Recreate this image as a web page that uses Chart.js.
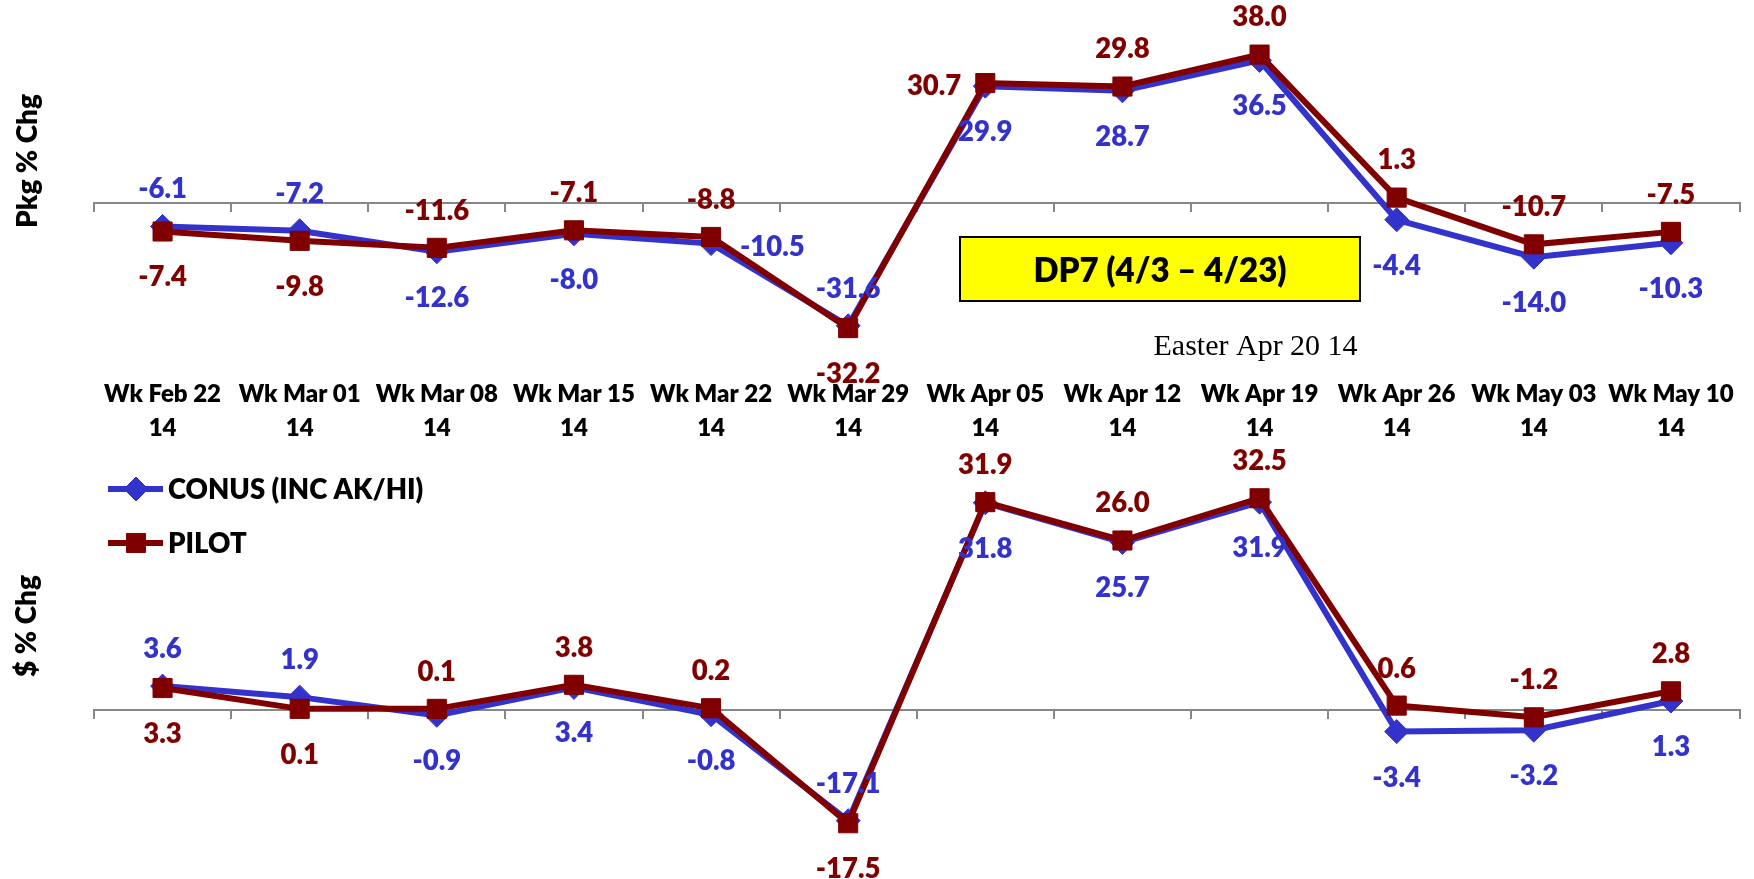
<!DOCTYPE html>
<html><head><meta charset="utf-8">
<script src="https://cdn.jsdelivr.net/npm/chart.js@4.4.1/dist/chart.umd.min.js"></script>
<style>
html,body{margin:0;padding:0;background:#fff;}
#wrap{position:relative;width:1754px;height:879px;overflow:hidden;background:#fff;}
canvas{position:absolute;left:0;}
</style></head><body>
<div id="wrap">
<canvas id="c1"></canvas>
<canvas id="c2"></canvas>
</div>
<script>
// ---------- data ----------
const categories = ['Wk Feb 22 14','Wk Mar 01 14','Wk Mar 08 14','Wk Mar 15 14','Wk Mar 22 14','Wk Mar 29 14',
                    'Wk Apr 05 14','Wk Apr 12 14','Wk Apr 19 14','Wk Apr 26 14','Wk May 03 14','Wk May 10 14'];
const seriesNames = ['CONUS (INC AK/HI)', 'PILOT'];
const pkgConus    = [-6.1, -7.2, -12.6, -8.0, -10.5, -31.6, 29.9, 28.7, 36.5, -4.4, -14.0, -10.3];
const pkgPilot    = [-7.4, -9.8, -11.6, -7.1, -8.8, -32.2, 30.7, 29.8, 38.0, 1.3, -10.7, -7.5];
const dollarConus = [3.6, 1.9, -0.9, 3.4, -0.8, -17.1, 31.8, 25.7, 31.9, -3.4, -3.2, 1.3];
const dollarPilot = [3.3, 0.1, 0.1, 3.8, 0.2, -17.5, 31.9, 26.0, 32.5, 0.6, -1.2, 2.8];
const pkgTitle = 'Pkg % Chg';
const dollarTitle = '$ % Chg';
const periodNote = 'DP7 (4/3 \u2013 4/23)';
const holidayNote = 'Easter Apr 20 14';
const holidayCategory = 'Wk Apr 19 14';

// ---------- label placement (layout, not data) ----------
const pkgConusPlace    = ['a','a','b','b','r','a','b','b','b','b','b','b'];
const pkgPilotPlace    = ['b','b','a','a','a','b','l','a','a','a','a','a'];
const dollarConusPlace = ['a','a','b','b','b','a','b','b','b','b','b','b'];
const dollarPilotPlace = ['b','b','a','a','a','b','a','a','a','a','a','a'];

// ---------- styles ----------
const BLUE = '#3333CC', RED = '#800000', AXIS = '#878787';
const FONT = 'Lato';
const WEIGHT = '800';
const LBL = 27.5;
const TICK = 24;

const W = 1754;
const c1 = document.getElementById('c1'), c2 = document.getElementById('c2');
c1.style.top = '0px'; c2.style.top = '440px';

const valueLabels = {
  id: 'valueLabels',
  afterDatasetsDraw(chart, args, o) {
    const ctx = chart.ctx;
    const cap = LBL * 0.72;
    chart.data.datasets.forEach((ds, di) => {
      const meta = chart.getDatasetMeta(di);
      const place = o.places[di];
      ctx.save();
      ctx.font = WEIGHT + ' ' + LBL + 'px ' + FONT;
      ctx.fillStyle = ds.borderColor;
      ctx.textBaseline = 'alphabetic';
      meta.data.forEach((pt, i) => {
        const txt = ds.data[i].toFixed(1);
        let x = pt.x, cy = pt.y, align = 'center';
        const p = place[i];
        if (p === 'a') cy -= 38;
        else if (p === 'b') cy += 45;
        else if (p === 'r') { x += 29; align = 'left'; cy += 3; }
        else if (p === 'l') { x -= 24; align = 'right'; cy += 2; }
        ctx.textAlign = align;
        ctx.fillText(txt, x, cy + cap / 2);
      });
      ctx.restore();
    });
  }
};

const sideTitle = {
  id: 'sideTitle',
  afterDraw(chart, args, o) {
    const ctx = chart.ctx;
    ctx.save();
    ctx.translate(o.x, o.y);
    ctx.rotate(-Math.PI / 2);
    ctx.font = WEIGHT + ' ' + o.size + 'px ' + FONT;
    ctx.fillStyle = '#000';
    ctx.textAlign = 'center';
    ctx.textBaseline = 'middle';
    ctx.fillText(o.text, 0, 0);
    ctx.restore();
  }
};

const notes = {
  id: 'notes',
  afterDraw(chart, args, o) {
    if (!o.show) return;
    const ctx = chart.ctx;
    ctx.save();
    // period box
    ctx.fillStyle = '#FFFF00';
    ctx.fillRect(960, 237, 400, 64);
    ctx.strokeStyle = '#000'; ctx.lineWidth = 2;
    ctx.strokeRect(960, 237, 400, 64);
    ctx.fillStyle = '#000';
    ctx.font = WEIGHT + ' 33px ' + FONT;
    ctx.textAlign = 'center'; ctx.textBaseline = 'alphabetic';
    ctx.fillText(periodNote, 1160, 270 + 33 * 0.36);
    // holiday note
    const hx = chart.scales.x.getPixelForValue(categories.indexOf(holidayCategory));
    ctx.font = '30px "Liberation Serif"';
    ctx.fillText(holidayNote, hx - 4, 355);
    ctx.restore();
  }
};

const seriesLegend = {
  id: 'seriesLegend',
  afterDraw(chart, args, o) {
    if (!o.show) return;
    const ctx = chart.ctx;
    chart.data.datasets.forEach((ds, i) => {
      const y = o.y + i * o.gap;
      ctx.save();
      ctx.strokeStyle = ds.borderColor; ctx.lineWidth = ds.borderWidth;
      ctx.beginPath(); ctx.moveTo(o.x, y); ctx.lineTo(o.x + 55, y); ctx.stroke();
      ctx.fillStyle = ds.borderColor; ctx.lineWidth = 1;
      Chart.helpers.drawPoint(ctx, {pointStyle: ds.pointStyle, radius: ds.pointRadius, borderWidth: 1, rotation: 0}, o.x + 28, y);
      ctx.fillStyle = '#000';
      ctx.font = WEIGHT + ' ' + LBL + 'px ' + FONT;
      ctx.textAlign = 'left'; ctx.textBaseline = 'alphabetic';
      ctx.fillText(ds.label, o.x + 60, y + LBL * 0.36);
      ctx.restore();
    });
  }
};

function makeDatasets(conus, pilot) {
  return [
    {label: seriesNames[0], data: conus, borderColor: BLUE, backgroundColor: BLUE, borderWidth: 6,
     pointStyle: 'rectRot', pointRadius: 12, pointBorderWidth: 1, pointHoverRadius: 12, order: 2, tension: 0},
    {label: seriesNames[1], data: pilot, borderColor: RED, backgroundColor: RED, borderWidth: 6,
     pointStyle: 'rect', pointRadius: 13.5, pointBorderWidth: 1, pointHoverRadius: 13.5, order: 1, tension: 0}
  ];
}

function zeroAxis() {
  return {
    type: 'category', offset: true, position: {y: 0},
    grid: {display: true, offset: true, drawOnChartArea: false, drawTicks: true, tickLength: 8, color: AXIS, lineWidth: 2},
    border: {display: true, color: AXIS, width: 2},
    ticks: {display: false}
  };
}

Chart.defaults.animation = false;

// ---------- top chart ----------
c1.width = W; c1.height = 450;
new Chart(c1, {
  type: 'line',
  data: {labels: categories, datasets: makeDatasets(pkgConus, pkgPilot)},
  plugins: [valueLabels, sideTitle, notes],
  options: {
    responsive: false, animation: false, devicePixelRatio: 1,
    layout: {padding: {left: 94, right: 10, top: 39, bottom: 0}},
    plugins: {legend: {display: false}, tooltip: {enabled: false},
      valueLabels: {places: [pkgConusPlace, pkgPilotPlace]},
      sideTitle: {text: pkgTitle, x: 28, y: 161, size: 28},
      notes: {show: true}},
    scales: {
      y: {display: false, min: -45, max: 42},
      x: {type: 'category', offset: true, position: 'bottom',
          grid: {display: false, drawTicks: false}, border: {display: false},
          ticks: {color: '#000', padding: 0, maxRotation: 0, autoSkip: false,
                  font: {family: FONT, weight: WEIGHT, size: TICK, lineHeight: 1.39},
                  callback(v, i) { const s = categories[i]; const k = s.lastIndexOf(' '); return [s.slice(0, k), s.slice(k + 1)]; }},
          afterFit(s) { s.height = 72; }},
      x0: zeroAxis()
    }
  }
});

// ---------- bottom chart ----------
c2.width = W; c2.height = 439;
new Chart(c2, {
  type: 'line',
  data: {labels: categories, datasets: makeDatasets(dollarConus, dollarPilot)},
  plugins: [valueLabels, sideTitle, seriesLegend],
  options: {
    responsive: false, animation: false, devicePixelRatio: 1,
    layout: {padding: {left: 94, right: 10, top: 35.5, bottom: 39.5}},
    plugins: {legend: {display: false}, tooltip: {enabled: false},
      valueLabels: {places: [dollarConusPlace, dollarPilotPlace]},
      sideTitle: {text: dollarTitle, x: 27, y: 186, size: 28},
      seriesLegend: {show: true, x: 108, y: 49, gap: 54}},
    scales: {
      y: {display: false, min: -20, max: 36},
      x: {type: 'category', offset: true, display: false},
      x0: zeroAxis()
    }
  }
});
</script>
</body></html>
